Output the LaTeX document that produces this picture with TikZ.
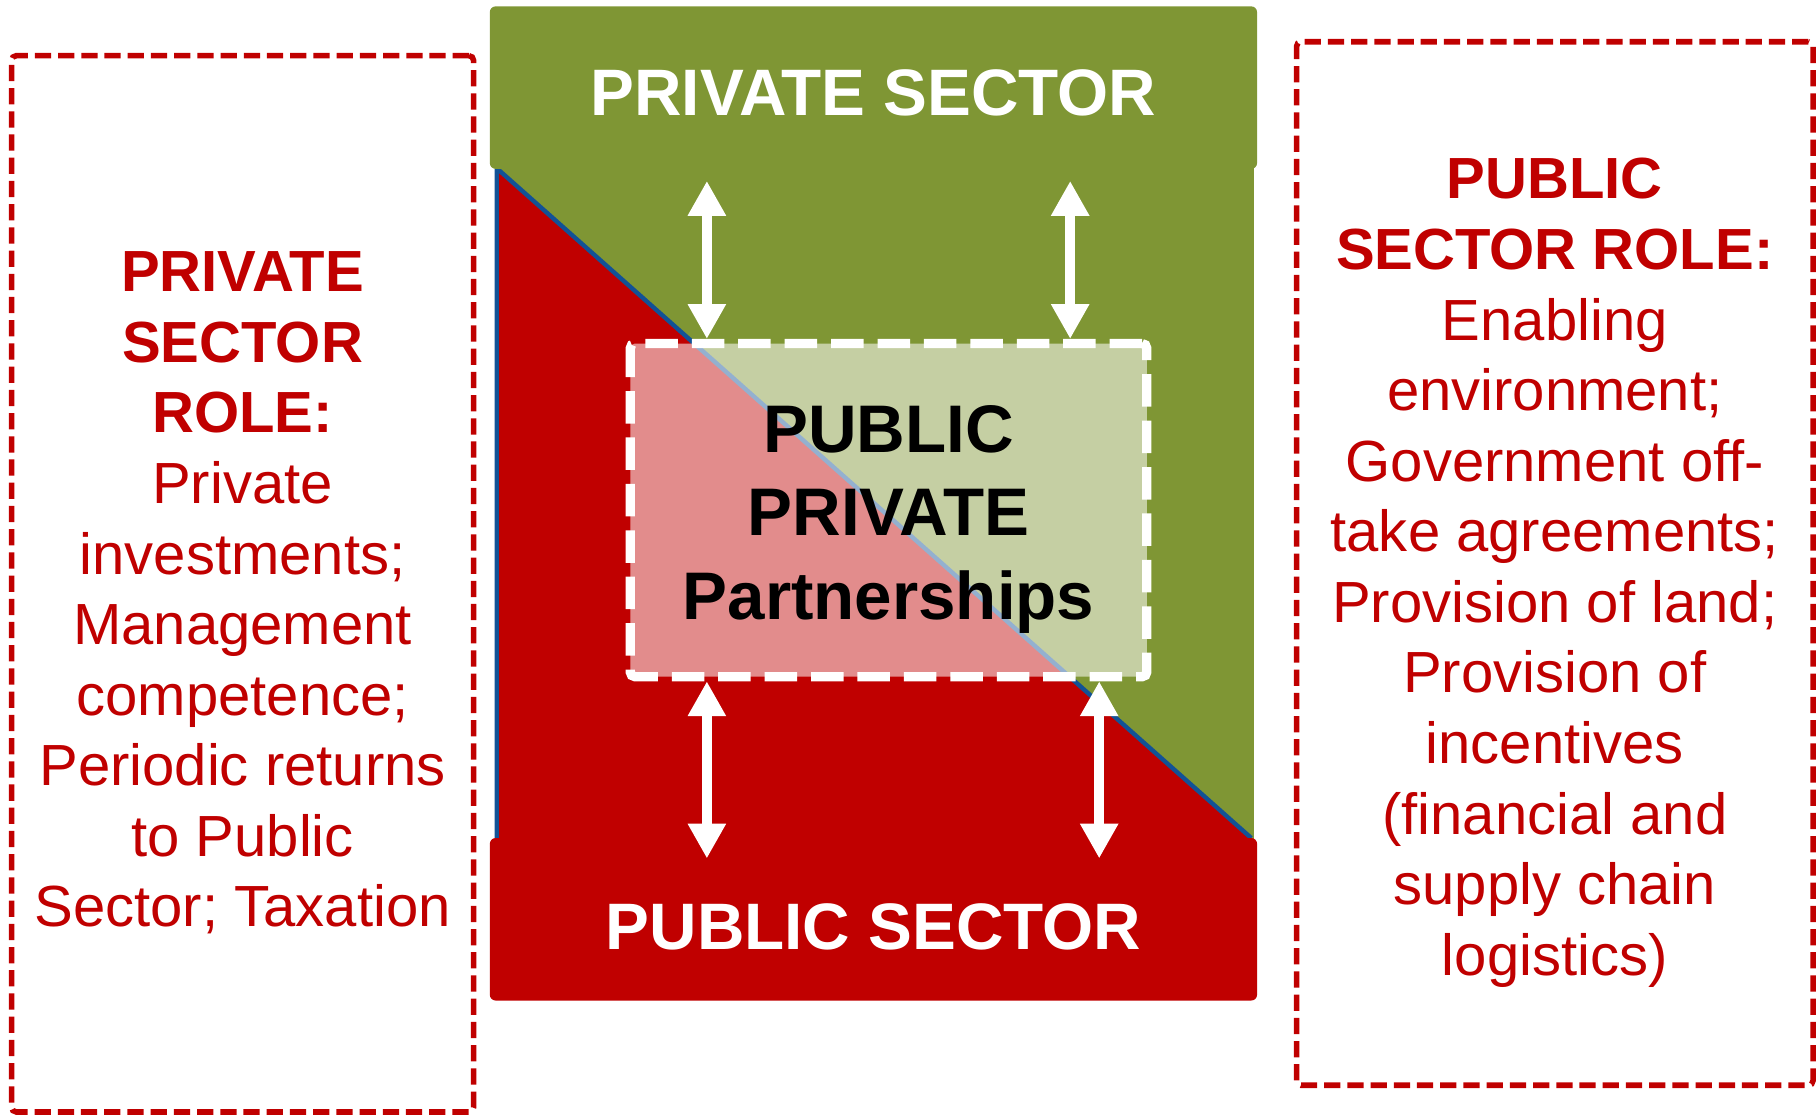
\documentclass[tikz,border=0pt]{standalone}
\usepackage{fontspec}
\setmainfont{Liberation Sans}
\usetikzlibrary{arrows.meta,calc}
\definecolor{olivegreen}{RGB}{127,150,52}
\definecolor{darkred}{RGB}{192,0,0}
\definecolor{edgeblue}{RGB}{18,82,150}
\tikzset{
  sectorbox/.style={rounded corners=2.5pt, inner sep=0pt, minimum width=330.5pt, minimum height=70pt, text depth=0pt, text=white, font=\fontsize{28.3}{34}\selectfont\bfseries},
  rolebox/.style={draw=darkred, line width=2.4pt, dash pattern=on 7pt off 3pt, rounded corners=2pt},
  roletext/.style={align=center, text=darkred, font=\fontsize{25}{30.4}\selectfont},
  pppbox/.style={fill=white, fill opacity=0.55, draw=white, draw opacity=1, line width=4pt, dash pattern=on 14pt off 6pt, rounded corners=2pt, minimum width=222.5pt, minimum height=143.5pt},
  ppptext/.style={align=center, font=\fontsize{29}{36}\selectfont\bfseries},
  twoway/.style={white, line width=4.5pt, {Triangle[width=15.5pt,length=15pt]}-{Triangle[width=15.5pt,length=15pt]}}
}
\begin{document}
\begin{tikzpicture}[x=0.5pt, y=-0.5pt]
\useasboundingbox (0,0) rectangle (1568,961);
\fill[olivegreen] (427,140) rectangle (1080,724);
\fill[darkred] (428,145) -- (428,722) -- (1078,722) -- cycle;
\draw[edgeblue, line width=1.9pt, line join=round] (428,726) -- (428,145) -- (1078,722);
\node[sectorbox, fill=olivegreen, text height=23.6pt] (priv) at (752.5,75.5) {PRIVATE SECTOR};
\node[sectorbox, fill=darkred, text height=25.6pt] (pub) at (752.5,792) {PUBLIC SECTOR};
\node[pppbox] (ppp) at (765.5,439.5) {};
\node[ppptext, yshift=-4pt] (ppptxt) at (ppp.center) {PUBLIC\\PRIVATE\\Partnerships};
\coordinate (lx) at (609,0);
\coordinate (rx) at (922,0);
\coordinate (bx) at (947,0);
\draw[twoway] ($(priv.south -| lx)+(0,10)$) -- (ppp.north -| lx);
\draw[twoway] ($(priv.south -| rx)+(0,10)$) -- (ppp.north -| rx);
\draw[twoway] (ppp.south -| lx) -- ($(pub.north -| lx)+(0,18)$);
\draw[twoway] (ppp.south -| bx) -- ($(pub.north -| bx)+(0,18)$);
\node[rolebox, minimum width=199pt, minimum height=455pt] (privrole) at (209,503) {};
\node[roletext, yshift=-4pt] (privtxt) at (privrole.center) {\textbf{PRIVATE}\\\textbf{SECTOR}\\\textbf{ROLE:}\\Private\\investments;\\Management\\competence;\\Periodic returns\\to Public\\Sector; Taxation};
\node[rolebox, minimum width=222.5pt, minimum height=449.5pt] (pubrole) at (1339.5,485.5) {};
\node[roletext, yshift=-4pt] (pubtxt) at (pubrole.center) {\textbf{PUBLIC}\\\textbf{SECTOR ROLE:}\\Enabling\\environment;\\Government off-\\take agreements;\\Provision of land;\\Provision of\\incentives\\(financial and\\supply chain\\logistics)};
\end{tikzpicture}
\end{document}
